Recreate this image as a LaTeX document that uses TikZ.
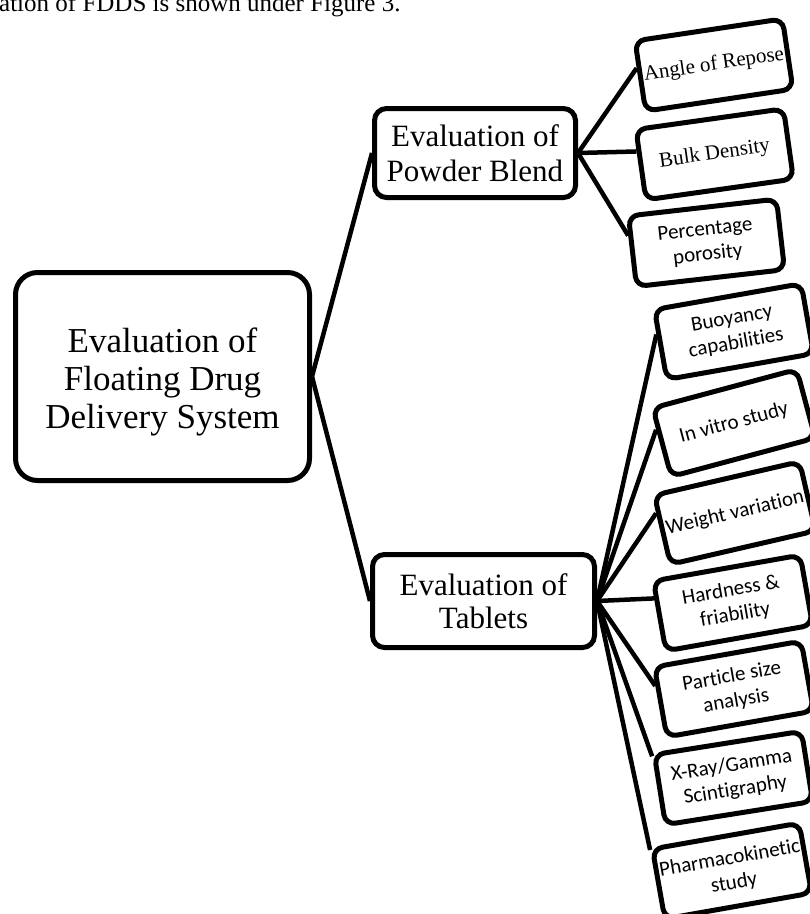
\documentclass[tikz,border=0pt]{standalone}
\usepackage{fontspec}
\setmainfont{Liberation Serif}
\newfontfamily\calfont[RawFeature={-liga;-clig;-dlig;-calt}]{Carlito}
\usetikzlibrary{calc}
\begin{document}
\begin{tikzpicture}[x=1pt,y=-1pt,
  bigbox/.style={draw, line width=5pt, fill=white, align=center, inner sep=0pt},
  smallbox/.style={draw, line width=5pt, fill=white, align=center, inner sep=0pt,
    rounded corners=10pt, minimum width=149pt, minimum height=71pt},
  tnr/.style={font=\fontsize{21}{25}\selectfont},
  cal/.style={font=\calfont\fontsize{21}{25}\selectfont},
  conn/.style={line width=4.5pt}]
\useasboundingbox (0,0) rectangle (810,914);
\clip (0,0) rectangle (810,914);

\node[anchor=base west, inner sep=0pt, font=\fontsize{25}{30}\selectfont] (caption) at (-1,11) {ation of FDDS is shown under Figure 3.};

\node[bigbox, rounded corners=22pt, minimum width=294pt, minimum height=208pt] (root) at (162.5,376.5) {};
\node[align=center, inner sep=0pt, font=\fontsize{35}{38}\selectfont] (roottext) at ($(root.center)+(0,5)$) {Evaluation of\\Floating Drug\\Delivery System};
\node[bigbox, rounded corners=12pt, minimum width=201pt, minimum height=89pt,
  font=\fontsize{31}{35}\selectfont] (powder) at (475,153) {Evaluation of\\Powder Blend};
\node[bigbox, rounded corners=12pt, minimum width=222pt, minimum height=93pt,
  font=\fontsize{31}{33}\selectfont] (tablets) at (483.5,601) {Evaluation of\\Tablets};

\node[smallbox, tnr, rotate=8.5] (angle) at (714,65) {Angle of Repose};
\node[smallbox, tnr, rotate=8] (bulk) at (714.7,154.3) {Bulk Density};
\node[smallbox, cal, rotate=6.5] (perc) at (706.5,242.8) {Percentage\\porosity};

\node[smallbox, cal, rotate=10] (buoy) at (734,331.6) {Buoyancy\\capabilities};
\node[smallbox, cal, rotate=15] (vitro) at (734,423) {In vitro study};
\node[smallbox, cal, rotate=13] (weight) at (735,513) {Weight variation};
\node[smallbox, cal, rotate=10] (hard) at (733,603) {Hardness \&\\friability};
\node[smallbox, cal, rotate=10] (part) at (734,689) {Particle size\\analysis};
\node[smallbox, cal, rotate=9] (xray) at (733.5,778) {X-Ray/Gamma\\Scintigraphy};
\node[smallbox, cal, rotate=10] (pharma) at (732,871) {Pharmacokinetic\\study};

\draw[conn] (root.east) -- (powder.west);
\draw[conn] (root.east) -- (tablets.west);

\draw[conn] (powder.east) -- ($(angle.north west)!0.39!(angle.south west)$);
\draw[conn] (powder.east) -- ($(bulk.north west)!0.32!(bulk.south west)$);
\draw[conn] (powder.east) -- ($(perc.north west)!0.29!(perc.south west)$);

\draw[conn] (tablets.east) -- ($(buoy.north west)!0.36!(buoy.south west)$);
\draw[conn] (tablets.east) -- ($(vitro.north west)!0.32!(vitro.south west)$);
\draw[conn] (tablets.east) -- ($(weight.north west)!0.27!(weight.south west)$);
\draw[conn] (tablets.east) -- ($(hard.north west)!0.26!(hard.south west)$);
\draw[conn] (tablets.east) -- ($(part.north west)!0.28!(part.south west)$);
\draw[conn] (tablets.east) -- ($(xray.north west)!0.05!(xray.south west)$);
\draw[conn] (tablets.east) -- ($(pharma.north west)!0.04!(pharma.south west)$);
\end{tikzpicture}
\end{document}
